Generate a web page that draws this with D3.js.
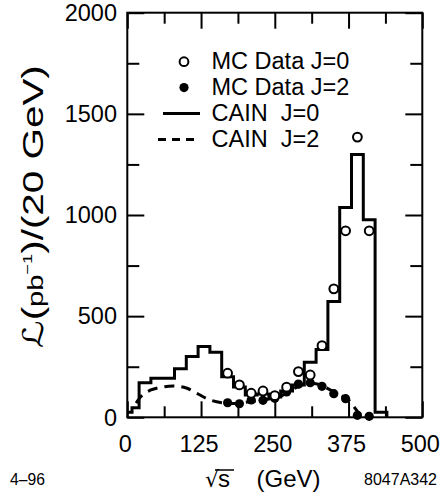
<!DOCTYPE html>
<html>
<head>
<meta charset="utf-8">
<script src="https://cdn.jsdelivr.net/npm/d3@7"></script>
<style>
  body { margin: 0; background: #fff; }
  text { font-family: "Liberation Sans", Arial, Helvetica, sans-serif; fill: #000; }
</style>
</head>
<body>
<svg id="chart" width="440" height="502"></svg>
<script>
// CAIN J=0 histogram: bin edges (GeV) and luminosity per bin
var cainEdges = [0, 8, 20, 40, 60, 80, 100, 120, 140, 160, 180, 200, 220, 240, 260, 280, 300, 320, 340, 360, 380, 400, 420, 440];
var cainJ0 = [25, 47, 171, 193, 193, 240, 300, 350, 322, 200, 150, 110, 115, 100, 130, 160, 272, 335, 572, 1037, 1299, 977, 25];

// CAIN J=2 smooth curve
var cainJ2x = [15, 25, 40, 60, 80, 100, 120, 140, 160, 180, 200, 220, 240, 260, 280, 300, 320, 340, 360, 375, 390, 400, 410];
var cainJ2y = [70, 108, 135, 150, 155, 145, 115, 86, 72, 68, 74, 82, 90, 104, 138, 163, 166, 142, 110, 86, 30, 8, 2];

// MC data points at bin centres
var mcX = [170, 190, 210, 230, 250, 270, 290, 310, 330, 350, 370, 390, 410];
var mcJ0 = [218, 160, 119, 130, 107, 149, 226, 209, 354, 635, 922, 1385, 922];
var mcJ2 = [72, 67, 86, 84, 94, 125, 164, 171, 153, 117, 92, 10, 5];

var xMajor = [0, 125, 250, 375, 500];
var yMajor = [0, 500, 1000, 1500, 2000];

var svg = d3.select('#chart');
var pL = 127.3, pR = 422.3, pT = 12.7, pB = 417.3;
var fs = 23.5;

var x = d3.scaleLinear().domain([0, 500]).range([pL, pR]);
var y = d3.scaleLinear().domain([0, 2000]).range([pB, pT]);

var xMinor = d3.range(0, 501, 62.5).filter(function(v){ return xMajor.indexOf(v) < 0; });
var yMinor = d3.range(0, 2001, 250).filter(function(v){ return yMajor.indexOf(v) < 0; });

// ticks on all four sides, pointing inward
function ticks(axis, vals, len, tr){
	svg.append('g')
		.attr('transform', tr)
		.call(axis.tickValues(vals).tickSize(-len).tickFormat(''))
		.call(function(g){
			g.select('.domain').remove();
			g.selectAll('line').attr('stroke', '#000').attr('stroke-width', 2);
		});
}
ticks(d3.axisBottom(x), xMajor, 16, 'translate(0,' + pB + ')');
ticks(d3.axisBottom(x), xMinor, 11, 'translate(0,' + pB + ')');
ticks(d3.axisTop(x), xMajor, 16, 'translate(0,' + pT + ')');
ticks(d3.axisTop(x), xMinor, 11, 'translate(0,' + pT + ')');
ticks(d3.axisLeft(y), yMajor, 17, 'translate(' + pL + ',0)');
ticks(d3.axisLeft(y), yMinor, 12, 'translate(' + pL + ',0)');
ticks(d3.axisRight(y), yMajor, 17, 'translate(' + pR + ',0)');
ticks(d3.axisRight(y), yMinor, 12, 'translate(' + pR + ',0)');

// histogram
var histPts = cainEdges.map(function(e, i){
	return [e, i < cainJ0.length ? cainJ0[i] : 0];
});
svg.append('path')
	.datum(histPts)
	.attr('fill', 'none')
	.attr('stroke', '#000')
	.attr('stroke-width', 3)
	.attr('d', d3.line().curve(d3.curveStepAfter)
		.x(function(d){ return x(d[0]); })
		.y(function(d){ return y(d[1]); }));

// dashed J=2 curve
svg.append('path')
	.datum(d3.zip(cainJ2x, cainJ2y))
	.attr('fill', 'none')
	.attr('stroke', '#000')
	.attr('stroke-width', 3)
	.attr('stroke-dasharray', '10,7')
	.attr('d', d3.line().curve(d3.curveCatmullRom)
		.x(function(d){ return x(d[0]); })
		.y(function(d){ return y(d[1]); }));

// frame
svg.append('rect')
	.attr('x', pL).attr('y', pT)
	.attr('width', pR - pL).attr('height', pB - pT)
	.attr('fill', 'none').attr('stroke', '#000').attr('stroke-width', 2);

// MC points
svg.selectAll('.j2').data(d3.zip(mcX, mcJ2)).enter()
	.append('circle')
	.attr('class', 'j2')
	.attr('cx', function(d){ return x(d[0]); })
	.attr('cy', function(d){ return y(d[1]); })
	.attr('r', 4.6)
	.attr('fill', '#000');

svg.selectAll('.j0').data(d3.zip(mcX, mcJ0)).enter()
	.append('circle')
	.attr('class', 'j0')
	.attr('cx', function(d){ return x(d[0]); })
	.attr('cy', function(d){ return y(d[1]); })
	.attr('r', 4.4)
	.attr('fill', '#fff')
	.attr('stroke', '#000')
	.attr('stroke-width', 2);

// tick labels
svg.selectAll('.xl').data(xMajor).enter()
	.append('text')
	.attr('x', function(d){ return x(d) - 2; })
	.attr('y', 452)
	.attr('text-anchor', 'middle')
	.style('font-size', fs + 'px')
	.text(function(d){ return d; });

svg.selectAll('.yl').data(yMajor).enter()
	.append('text')
	.attr('x', 117)
	.attr('y', function(d){ return y(d) + 8.3; })
	.attr('text-anchor', 'end')
	.style('font-size', fs + 'px')
	.text(function(d){ return d; });

// legend
var legend = svg.append('g');
var rows = [
	{label: 'MC Data J=0', type: 'open'},
	{label: 'MC Data J=2', type: 'filled'},
	{label: 'CAIN  J=0', type: 'solid'},
	{label: 'CAIN  J=2', type: 'dashed'}
];
rows.forEach(function(r, i){
	var cy = 61.7 + i * 25.9;
	if(r.type === 'open'){
		legend.append('circle').attr('cx', 184).attr('cy', cy).attr('r', 4.4)
			.attr('fill', '#fff').attr('stroke', '#000').attr('stroke-width', 2);
	}else if(r.type === 'filled'){
		legend.append('circle').attr('cx', 184).attr('cy', cy).attr('r', 4.6).attr('fill', '#000');
	}else{
		legend.append('line').attr('x1', r.type === 'solid' ? 163 : 158).attr('x2', 200)
			.attr('y1', cy).attr('y2', cy)
			.attr('stroke', '#000').attr('stroke-width', 3)
			.attr('stroke-dasharray', r.type === 'dashed' ? '8,6' : null);
	}
	legend.append('text')
		.attr('x', 211.5).attr('y', cy + 7.3)
		.style('font-size', fs + 'px')
		.style('white-space', 'pre')
		.text(r.label);
});

// y axis title, runs upward from y=348 to about y=43
var ts = 30;
var yt = svg.append('text')
	.style('font-size', ts + 'px');
yt.append('tspan').style('font-family', '"DejaVu Sans", sans-serif').style('font-size', (ts * 0.95) + 'px').text('\u2112');
yt.append('tspan').text('(');
yt.append('tspan').style('font-size', (ts * 0.72) + 'px').text('pb');
yt.append('tspan').style('font-size', (ts * 0.45) + 'px').attr('dy', -ts * 0.38).text('\u22121');
yt.append('tspan').attr('dy', ts * 0.38).text(')/(20 GeV)');
var tb = yt.node().getBBox();
var sx = 283 / tb.width;
yt.attr('transform', 'translate(43,348) rotate(-90) scale(' + sx + ',1)');

// x axis title
svg.append('text').attr('x', 205).attr('y', 487)
	.style('font-family', '"DejaVu Sans", sans-serif').style('font-size', '22px')
	.text('\u221a');
var sText = svg.append('text').attr('x', 218).attr('y', 487)
	.style('font-size', '24px').text('s');
svg.append('text').attr('x', 256.5).attr('y', 487)
	.style('font-size', '24px').text('(GeV)');
var sb = sText.node().getBBox();
svg.append('line')
	.attr('x1', sb.x - 3).attr('x2', sb.x + sb.width + 4)
	.attr('y1', 470).attr('y2', 470)
	.attr('stroke', '#000').attr('stroke-width', 1.5);

svg.append('text').attr('x', 10).attr('y', 485).style('font-size', '15.7px').text('4\u201396');
svg.append('text').attr('x', 437).attr('y', 485).attr('text-anchor', 'end').style('font-size', '16px').text('8047A342');
</script>
</body>
</html>
